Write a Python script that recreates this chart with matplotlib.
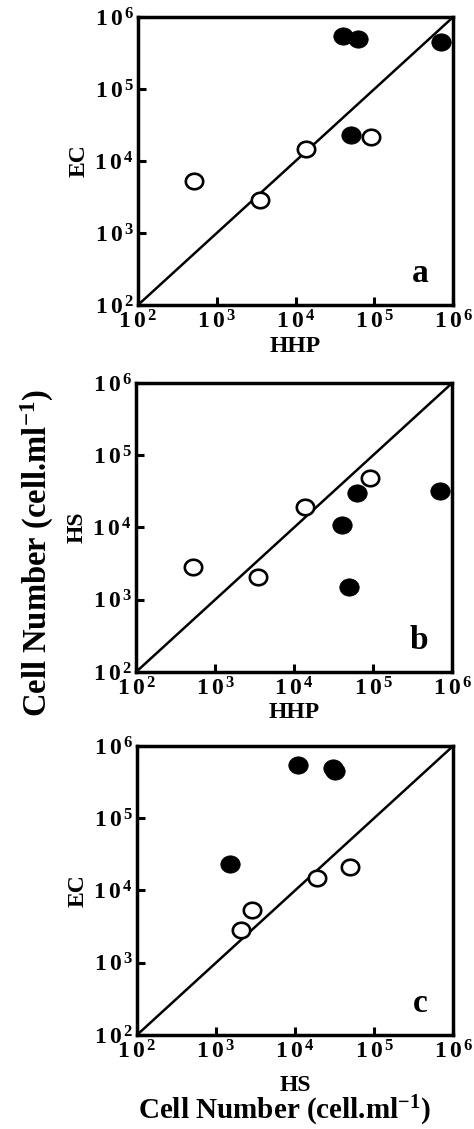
import numpy as np
import matplotlib
matplotlib.use("Agg")
import matplotlib.pyplot as plt
from matplotlib.path import Path
from matplotlib.ticker import FixedLocator, FuncFormatter, NullLocator

plt.rcParams['font.family'] = ['Liberation Serif', 'DejaVu Serif']
plt.rcParams['font.weight'] = 'bold'
plt.rcParams['mathtext.fontset'] = 'custom'
plt.rcParams['mathtext.rm'] = 'Liberation Serif:bold'
plt.rcParams['mathtext.bf'] = 'Liberation Serif:bold'
plt.rcParams['mathtext.it'] = 'Liberation Serif:bold'

# cell numbers (cell/ml), filled = one group, open = other group
hhp_filled = [4.0e4, 6.2e4, 7.0e5, 5.0e4]
ec_filled = [5.5e5, 5.0e5, 4.5e5, 2.3e4]
hs_filled = [1.08e4, 3.0e4, 3.2e4, 1.52e3]

hhp_open = [520, 3500, 1.37e4, 9.1e4]
ec_open = [5.3e3, 2.86e3, 1.47e4, 2.13e4]
hs_open = [2850, 2050, 1.9e4, 4.9e4]

decades = [1e2, 1e3, 1e4, 1e5, 1e6]

# slightly wide ellipse marker
t = np.linspace(0, 2 * np.pi, 60)
ell = Path(np.c_[1.12 * np.cos(t), np.sin(t)], closed=True)

fig = plt.figure(figsize=(4.74, 11.29), dpi=100)

panels = [
    # rect, xlabel, ylabel, letter, xlabel y
    ([0.291, 0.7298, 0.665, 0.2551], 'HHP', 'EC', 'a', -0.108),
    ([0.287, 0.4048, 0.667, 0.2560], 'HHP', 'HS', 'b', -0.104),
    ([0.289, 0.0833, 0.667, 0.2560], 'HS', 'EC', 'c', -0.140),
]
xdata = [(hhp_filled, hhp_open), (hhp_filled, hhp_open), (hs_filled, hs_open)]
ydata = [(ec_filled, ec_open), (hs_filled, hs_open), (ec_filled, ec_open)]

fmt = FuncFormatter(
    lambda v, p: r'$\mathbf{1\,0}^{\,\mathbf{%d}}$' % round(np.log10(v)))

for (rect, xl, yl, letter, xly), (xf, xo), (yf, yo) in zip(panels, xdata, ydata):
    ax = fig.add_axes(rect)
    ax.set_xscale('log')
    ax.set_yscale('log')
    ax.set_xlim(1e2, 1e6)
    ax.set_ylim(1e2, 1e6)

    ax.plot(decades, decades, color='black', lw=1.8, zorder=2)
    ax.plot(xf, yf, linestyle='none', marker=ell, ms=14, mfc='black',
            mec='black', mew=0.5, zorder=3)
    ax.plot(xo, yo, linestyle='none', marker=ell, ms=12.5, mfc='white',
            mec='black', mew=1.9, zorder=3)

    for axis in (ax.xaxis, ax.yaxis):
        axis.set_major_locator(FixedLocator(decades))
        axis.set_minor_locator(NullLocator())
        axis.set_major_formatter(fmt)
    ax.tick_params(direction='in', length=6, width=2.2, labelsize=17,
                   top=False, right=False)
    ax.tick_params(axis='x', pad=4)
    ax.tick_params(axis='y', pad=3)
    for s in ax.spines.values():
        s.set_linewidth(2.5)

    ax.set_xlabel(xl, fontsize=17, fontweight='bold', va='top')
    ax.xaxis.set_label_coords(0.5, xly)
    ax.set_ylabel(yl, fontsize=17, fontweight='bold')
    ax.yaxis.set_label_coords(-0.152, 0.5)

    ax.text(0.895, 0.08, letter, transform=ax.transAxes, fontsize=24,
            fontweight='bold', ha='center', va='baseline')

fig.text(0.078, 0.510, r'Cell Number (cell.ml$^{\mathbf{-1}}$)', rotation=90,
         fontsize=23.5, fontweight='bold', ha='center', va='center')
fig.text(0.601, 0.0085, r'Cell Number (cell.ml$^{\mathbf{-1}}$)',
         fontsize=21, fontweight='bold', ha='center', va='baseline')

fig.savefig('out.png', dpi=100)
